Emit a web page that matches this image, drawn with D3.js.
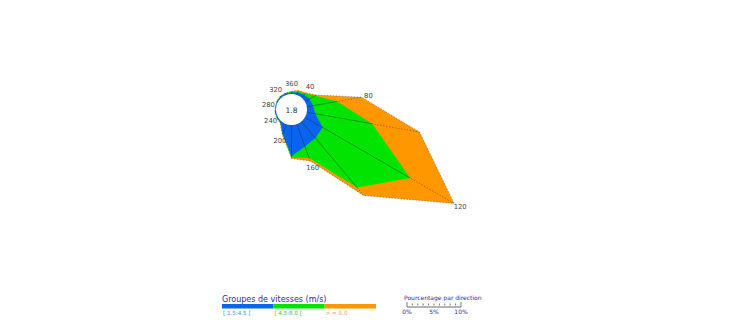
<!DOCTYPE html>
<html>
<head>
<meta charset="utf-8">
<script src="https://cdn.jsdelivr.net/npm/d3@7"></script>
<style>
  body { margin: 0; background: #fff; }
  text { font-family: "DejaVu Sans", Verdana, sans-serif; }
</style>
</head>
<body>
<svg id="chart" width="730" height="322"></svg>
<script>
// wind directions (degrees) and percentage per speed group
var directions = [360, 20, 40, 60, 80, 100, 120, 140, 160, 180, 200, 220, 240, 260, 280, 300, 320, 340];
var dirLabels = [360, 40, 80, 120, 160, 200, 240, 280, 320];
var calm = 1.8;
var speedGroups = ["[ 1.5:4.5 [", "[ 4.5:8.0 [", "> = 8.0"];
var groupColors = ["#0a64f0", "#00e400", "#ff9800"];
var groupTextColors = ["#3d8fe0", "#33c233", "#f5a540"];

var blueValues   = [0.3, 0.5, 0.7, 1.0, 1.2, 1.6, 3.8, 4.0, 4.4, 5.8, 1.9, 0.3, 0.2, 0.2, 0.1, 0.2, 0.3, 0.3];
var greenValues  = [0.1, 0.2, 0.3, 1.2, 4.5, 10.7, 18.7, 12.0, 2.3, 0.2, 0.1, 0.05, 0.05, 0.02, 0.02, 0.02, 0.05, 0.05];
var orangeValues = [0.1, 0.2, 0.2, 0.3, 4.6, 8.9, 9.4, 1.9, 0.6, 0.2, 0.1, 0.05, 0.05, 0.05, 0.05, 0.05, 0.05, 0.05];

var scaleTicks = [0, 1, 2, 3, 4, 5, 6, 7, 8, 9, 10];
var scaleLabels = [0, 5, 10];

var svg = d3.select("#chart");
var cx = 291.5, cy = 109.5, r0 = 15.5;

// percentage -> pixels (10% = 54px)
var pct = d3.scaleLinear().domain([0, 10]).range([0, 54]);

// cumulative radii per layer
var layers = [blueValues, greenValues, orangeValues];
var cum = [];
directions.forEach(function(d, i) {
  var s = 0;
  cum[i] = layers.map(function(v) { s += v[i]; return r0 + pct(s); });
});

function point(angle, r) {
  var a = angle / 180 * Math.PI;
  return [cx + r * Math.sin(a), cy - r * Math.cos(a)];
}

var g = svg.append("g");

// draw from the outer group to the inner one
[2, 1, 0].forEach(function(k) {
  var pts = directions.map(function(d, i) { return point(d, cum[i][k]); });
  g.append("path")
    .attr("d", "M" + pts.join("L") + "Z")
    .attr("fill", groupColors[k])
    .attr("stroke", k == 2 ? "#555" : "none")
    .attr("stroke-width", 0.5)
    .attr("stroke-dasharray", "1.5,1.5");

  g.selectAll(".spoke" + k)
    .data(pts)
    .enter().append("line")
    .attr("x1", cx).attr("y1", cy)
    .attr("x2", function(p) { return p[0]; })
    .attr("y2", function(p) { return p[1]; })
    .attr("stroke", "#222")
    .attr("stroke-width", 0.5)
    .attr("stroke-opacity", 0.8)
    .attr("stroke-dasharray", k == 2 ? "1.5,1.5" : null);
});

// calm circle
g.append("circle").attr("cx", cx).attr("cy", cy).attr("r", r0).attr("fill", "#fff");
g.append("text")
  .attr("x", cx).attr("y", cy + 1)
  .attr("text-anchor", "middle").attr("dominant-baseline", "middle")
  .attr("font-size", 7.5).attr("fill", "#333")
  .text(calm);

// direction labels
dirLabels.forEach(function(d) {
  var i = directions.indexOf(d);
  var p = point(d, cum[i][2] + 7);
  g.append("text")
    .attr("x", p[0]).attr("y", p[1])
    .attr("text-anchor", "middle").attr("dominant-baseline", "middle")
    .attr("font-size", 6.8).attr("fill", "#444")
    .text(d);
});

// legend: speed groups
var leg = svg.append("g").attr("transform", "translate(222,0)");
leg.append("text").attr("x", 0).attr("y", 302)
  .attr("font-size", 8).attr("fill", "#2a2aa8")
  .text("Groupes de vitesses (m/s)");
var bx = d3.scaleBand().domain(speedGroups).range([0, 154]);
leg.selectAll(".bar").data(speedGroups).enter().append("rect")
  .attr("x", function(d) { return bx(d); })
  .attr("y", 304).attr("width", bx.bandwidth()).attr("height", 4.5)
  .attr("fill", function(d, i) { return groupColors[i]; });
leg.selectAll(".glab").data(speedGroups).enter().append("text")
  .attr("x", function(d) { return bx(d) + 1; })
  .attr("y", 314.5)
  .attr("font-size", 5.6)
  .attr("fill", function(d, i) { return groupTextColors[i]; })
  .text(function(d) { return d; });

// legend: percentage scale
var sx = d3.scaleLinear().domain([0, 10]).range([407, 461]);
var sc = svg.append("g");
sc.append("text").attr("x", 404).attr("y", 299.5)
  .attr("font-size", 6).attr("fill", "#2a2aa8")
  .text("Pourcentage par direction");
sc.append("line").attr("x1", sx(0)).attr("x2", sx(10)).attr("y1", 307).attr("y2", 307)
  .attr("stroke", "#444").attr("stroke-width", 0.8);
sc.selectAll(".tk").data(scaleTicks).enter().append("line")
  .attr("x1", function(d) { return sx(d); }).attr("x2", function(d) { return sx(d); })
  .attr("y1", function(d) { return d == 0 || d == 10 ? 302 : 303.5; })
  .attr("y2", function(d) { return d == 0 || d == 10 ? 307 : 305.5; })
  .attr("stroke", "#444").attr("stroke-width", 0.7);
sc.selectAll(".tl").data(scaleLabels).enter().append("text")
  .attr("x", function(d) { return sx(d); }).attr("y", 314)
  .attr("text-anchor", "middle")
  .attr("font-size", 6).attr("fill", "#2a2aa8")
  .text(function(d) { return d + "%"; });
</script>
</body>
</html>
